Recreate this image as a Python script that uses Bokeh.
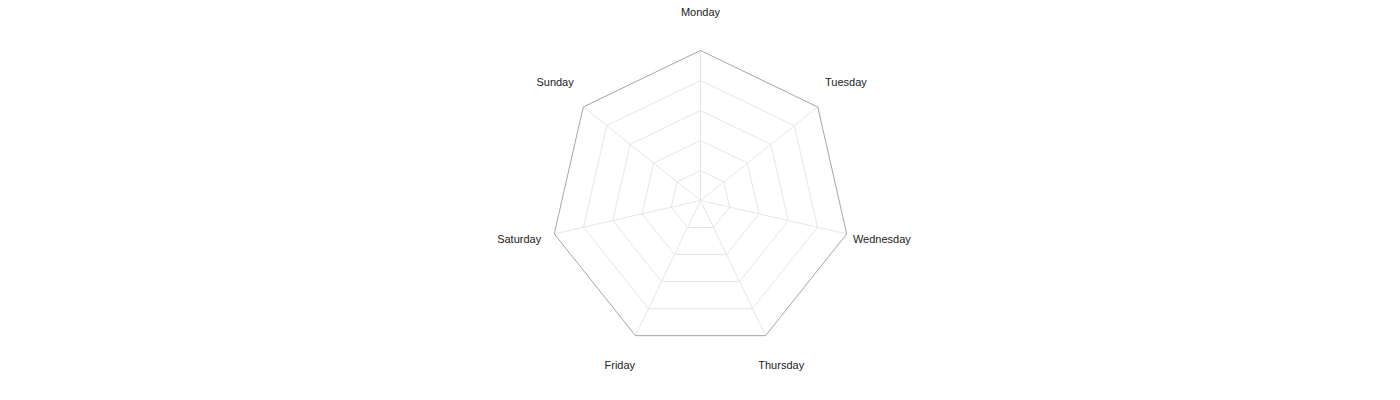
import math
from bokeh.plotting import figure
from bokeh.models import Range1d, ColumnDataSource
from bokeh.core.properties import value
from bokeh.embed import file_html
from bokeh.resources import INLINE

categories = ["Monday", "Tuesday", "Wednesday", "Thursday", "Friday", "Saturday", "Sunday"]
levels = [1, 2, 3, 4, 5]
max_level = 5

W, H = 1384, 384
p = figure(width=W, height=H, output_backend="svg", toolbar_location=None,
           x_range=Range1d(0, W), y_range=Range1d(400 - H, 400),
           min_border=0, outline_line_color=None)
p.axis.visible = False
p.grid.visible = False
p.background_fill_color = "white"
p.border_fill_color = "white"

cx, cy, R = 700, 200, 150
n = len(categories)
angles = [2 * math.pi * i / n for i in range(n)]

def pt(r, a):
    return cx + r * math.sin(a), cy + r * math.cos(a)

# spokes
xs, ys = [], []
for a in angles:
    x1, y1 = pt(R, a)
    xs.append([cx, x1]); ys.append([cy, y1])
p.multi_line(xs, ys, line_color="#e6e6e6", line_width=1)

# rings
for lv in levels:
    r = R * lv / max_level
    px = [pt(r, a)[0] for a in angles] + [pt(r, angles[0])[0]]
    py = [pt(r, a)[1] for a in angles] + [pt(r, angles[0])[1]]
    color = "#a6a6a6" if lv == max_level else "#e6e6e6"
    p.line(px, py, line_color=color, line_width=1)

# labels
LR = 186
lx = [pt(LR, a)[0] for a in angles]
ly = [pt(LR, a)[1] + 3 for a in angles]
src = ColumnDataSource(dict(x=lx, y=ly, t=categories))
p.text("x", "y", text="t", source=src, text_align="center", text_baseline="middle",
       text_font=value("Liberation Sans"), text_font_size="11px", text_color="#222222")

open("out.html", "w").write(file_html(p, INLINE))
